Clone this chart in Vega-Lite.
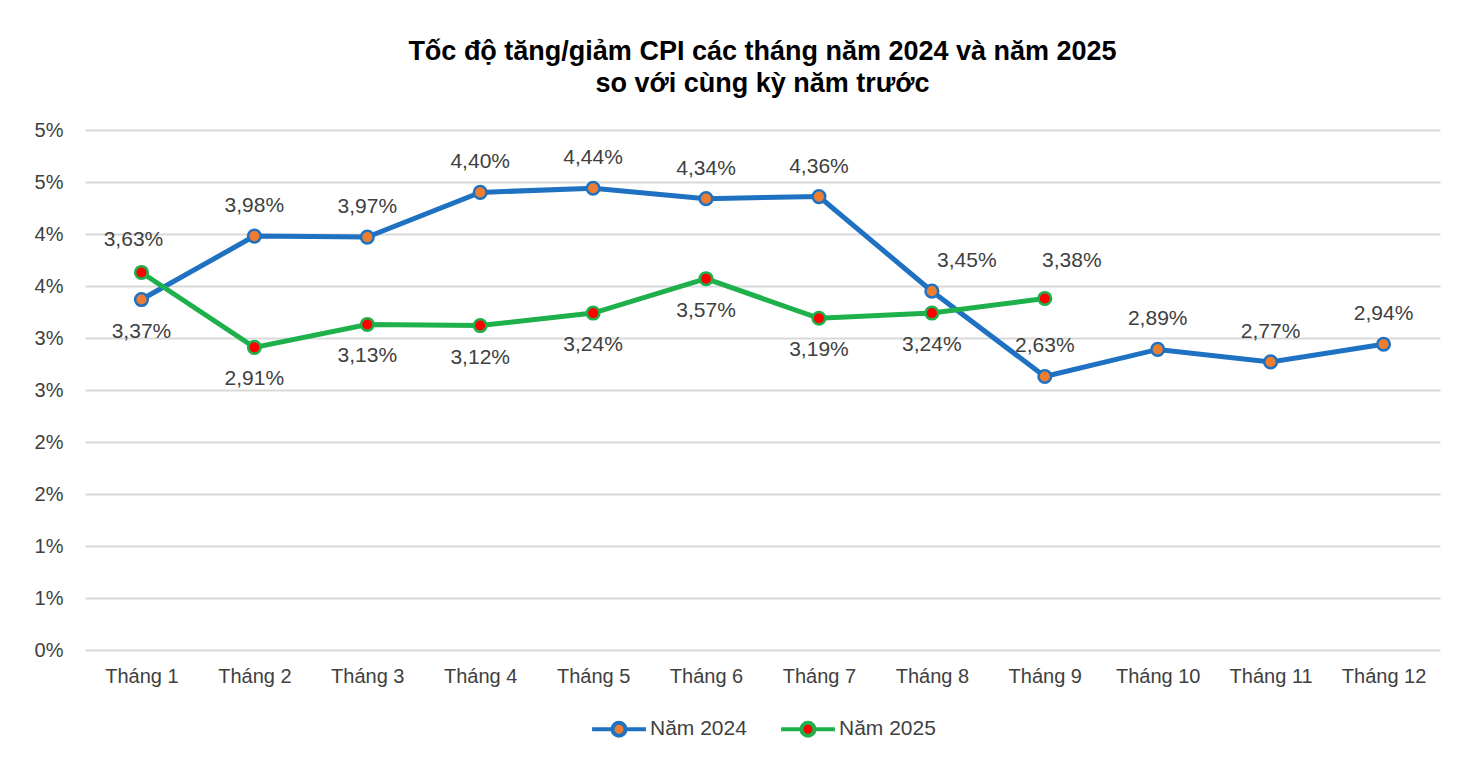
{
  "$schema": "https://vega.github.io/schema/vega-lite/v6.json",
  "autosize": {"type": "none"},
  "padding": {"left": 85, "top": 130, "right": 40, "bottom": 126},
  "width": 1355,
  "height": 520,
  "background": "white",
  "title": {
    "text": ["Tốc độ tăng/giảm CPI các tháng năm 2024 và năm 2025", "so với cùng kỳ năm trước"],
    "font": "Liberation Sans",
    "fontSize": 27,
    "fontWeight": "bold",
    "color": "#000000",
    "lineHeight": 32,
    "anchor": "middle",
    "offset": 22
  },
  "config": {
    "locale": {"number": {"decimal": ",", "thousands": ".", "grouping": [3], "currency": ["", " ₫"]}},
    "view": {"stroke": null},
    "axis": {
      "labelFont": "Liberation Sans",
      "labelFontSize": 20,
      "labelColor": "#404040",
      "titleFont": "Liberation Sans"
    },
    "legend": {
      "labelFont": "Liberation Sans",
      "layout": {"bottom": {"anchor": "middle"}}
    }
  },
  "data": {
    "values": [
      {"thang": "Tháng 1", "nam": "Năm 2024", "v": 0.0337},
      {"thang": "Tháng 2", "nam": "Năm 2024", "v": 0.0398},
      {"thang": "Tháng 3", "nam": "Năm 2024", "v": 0.0397},
      {"thang": "Tháng 4", "nam": "Năm 2024", "v": 0.044},
      {"thang": "Tháng 5", "nam": "Năm 2024", "v": 0.0444},
      {"thang": "Tháng 6", "nam": "Năm 2024", "v": 0.0434},
      {"thang": "Tháng 7", "nam": "Năm 2024", "v": 0.0436},
      {"thang": "Tháng 8", "nam": "Năm 2024", "v": 0.0345},
      {"thang": "Tháng 9", "nam": "Năm 2024", "v": 0.0263},
      {"thang": "Tháng 10", "nam": "Năm 2024", "v": 0.0289},
      {"thang": "Tháng 11", "nam": "Năm 2024", "v": 0.0277},
      {"thang": "Tháng 12", "nam": "Năm 2024", "v": 0.0294},
      {"thang": "Tháng 1", "nam": "Năm 2025", "v": 0.0363},
      {"thang": "Tháng 2", "nam": "Năm 2025", "v": 0.0291},
      {"thang": "Tháng 3", "nam": "Năm 2025", "v": 0.0313},
      {"thang": "Tháng 4", "nam": "Năm 2025", "v": 0.0312},
      {"thang": "Tháng 5", "nam": "Năm 2025", "v": 0.0324},
      {"thang": "Tháng 6", "nam": "Năm 2025", "v": 0.0357},
      {"thang": "Tháng 7", "nam": "Năm 2025", "v": 0.0319},
      {"thang": "Tháng 8", "nam": "Năm 2025", "v": 0.0324},
      {"thang": "Tháng 9", "nam": "Năm 2025", "v": 0.0338}
    ]
  },
  "encoding": {
    "x": {
      "field": "thang",
      "type": "ordinal",
      "sort": ["Tháng 1", "Tháng 2", "Tháng 3", "Tháng 4", "Tháng 5", "Tháng 6", "Tháng 7", "Tháng 8", "Tháng 9", "Tháng 10", "Tháng 11", "Tháng 12"],
      "scale": {"type": "point", "padding": 0.5},
      "axis": {"title": null, "labelAngle": 0, "ticks": false, "domain": false, "labelPadding": 16}
    },
    "y": {
      "field": "v",
      "type": "quantitative",
      "scale": {"domain": [0, 0.05], "nice": false},
      "axis": {
        "title": null,
        "format": ".0%",
        "values": [0, 0.005, 0.01, 0.015, 0.02, 0.025, 0.03, 0.035, 0.04, 0.045, 0.05],
        "ticks": false,
        "domain": false,
        "labelPadding": 22,
        "gridColor": "#D9D9D9",
        "gridWidth": 2
      }
    }
  },
  "layer": [
    {
      "mark": {"type": "line", "strokeWidth": 5},
      "encoding": {
        "stroke": {
          "field": "nam",
          "type": "nominal",
          "scale": {"domain": ["Năm 2024", "Năm 2025"], "range": ["#1F72C2", "#1DB04B"]},
          "legend": {
            "title": null,
            "orient": "bottom",
            "direction": "horizontal",
            "offset": 14,
            "symbolType": "M-1,0H-0.24M0.24,0A0.24,0.24 0 1,1 -0.24,0A0.24,0.24 0 1,1 0.24,0M0.24,0H1",
            "symbolSize": 2900,
            "symbolStrokeWidth": 4,
            "labelFontSize": 21,
            "labelColor": "#404040",
            "labelOffset": 2,
            "columnPadding": 26
          }
        }
      }
    },
    {
      "mark": {"type": "point", "filled": true, "size": 160, "strokeWidth": 2.5, "opacity": 1},
      "encoding": {
        "stroke": {
          "field": "nam",
          "type": "nominal",
          "scale": {"domain": ["Năm 2024", "Năm 2025"], "range": ["#1F72C2", "#1DB04B"]},
          "legend": {
            "title": null,
            "orient": "bottom",
            "direction": "horizontal",
            "offset": 14,
            "symbolType": "M-1,0H-0.24M0.24,0A0.24,0.24 0 1,1 -0.24,0A0.24,0.24 0 1,1 0.24,0M0.24,0H1",
            "symbolSize": 2900,
            "symbolStrokeWidth": 4,
            "labelFontSize": 21,
            "labelColor": "#404040",
            "labelOffset": 2,
            "columnPadding": 26
          }
        },
        "fill": {
          "field": "nam",
          "type": "nominal",
          "scale": {"domain": ["Năm 2024", "Năm 2025"], "range": ["#ED7D31", "#FF0000"]},
          "legend": {
            "title": null,
            "orient": "bottom",
            "direction": "horizontal",
            "offset": 14,
            "symbolType": "M-1,0H-0.24M0.24,0A0.24,0.24 0 1,1 -0.24,0A0.24,0.24 0 1,1 0.24,0M0.24,0H1",
            "symbolSize": 2900,
            "symbolStrokeWidth": 4,
            "labelFontSize": 21,
            "labelColor": "#404040",
            "labelOffset": 2,
            "columnPadding": 26
          }
        }
      }
    },
    {
      "transform": [{"filter": "datum.nam == 'Năm 2024' && datum.thang != 'Tháng 1' && datum.thang != 'Tháng 8'"}],
      "mark": {"type": "text", "dy": -30, "font": "Liberation Sans", "fontSize": 21, "color": "#404040"},
      "encoding": {"text": {"field": "v", "type": "quantitative", "format": ".2%"}}
    },
    {
      "transform": [{"filter": "datum.nam == 'Năm 2024' && datum.thang == 'Tháng 1'"}],
      "mark": {"type": "text", "dy": 32, "font": "Liberation Sans", "fontSize": 21, "color": "#404040"},
      "encoding": {"text": {"field": "v", "type": "quantitative", "format": ".2%"}}
    },
    {
      "transform": [{"filter": "datum.nam == 'Năm 2024' && datum.thang == 'Tháng 8'"}],
      "mark": {"type": "text", "dx": 35, "dy": -30, "font": "Liberation Sans", "fontSize": 21, "color": "#404040"},
      "encoding": {"text": {"field": "v", "type": "quantitative", "format": ".2%"}}
    },
    {
      "transform": [{"filter": "datum.nam == 'Năm 2025' && datum.thang != 'Tháng 1' && datum.thang != 'Tháng 9'"}],
      "mark": {"type": "text", "dy": 32, "font": "Liberation Sans", "fontSize": 21, "color": "#404040"},
      "encoding": {"text": {"field": "v", "type": "quantitative", "format": ".2%"}}
    },
    {
      "transform": [{"filter": "datum.nam == 'Năm 2025' && datum.thang == 'Tháng 1'"}],
      "mark": {"type": "text", "dx": -8, "dy": -32, "font": "Liberation Sans", "fontSize": 21, "color": "#404040"},
      "encoding": {"text": {"field": "v", "type": "quantitative", "format": ".2%"}}
    },
    {
      "transform": [{"filter": "datum.nam == 'Năm 2025' && datum.thang == 'Tháng 9'"}],
      "mark": {"type": "text", "dx": 27, "dy": -37, "font": "Liberation Sans", "fontSize": 21, "color": "#404040"},
      "encoding": {"text": {"field": "v", "type": "quantitative", "format": ".2%"}}
    }
  ]
}
